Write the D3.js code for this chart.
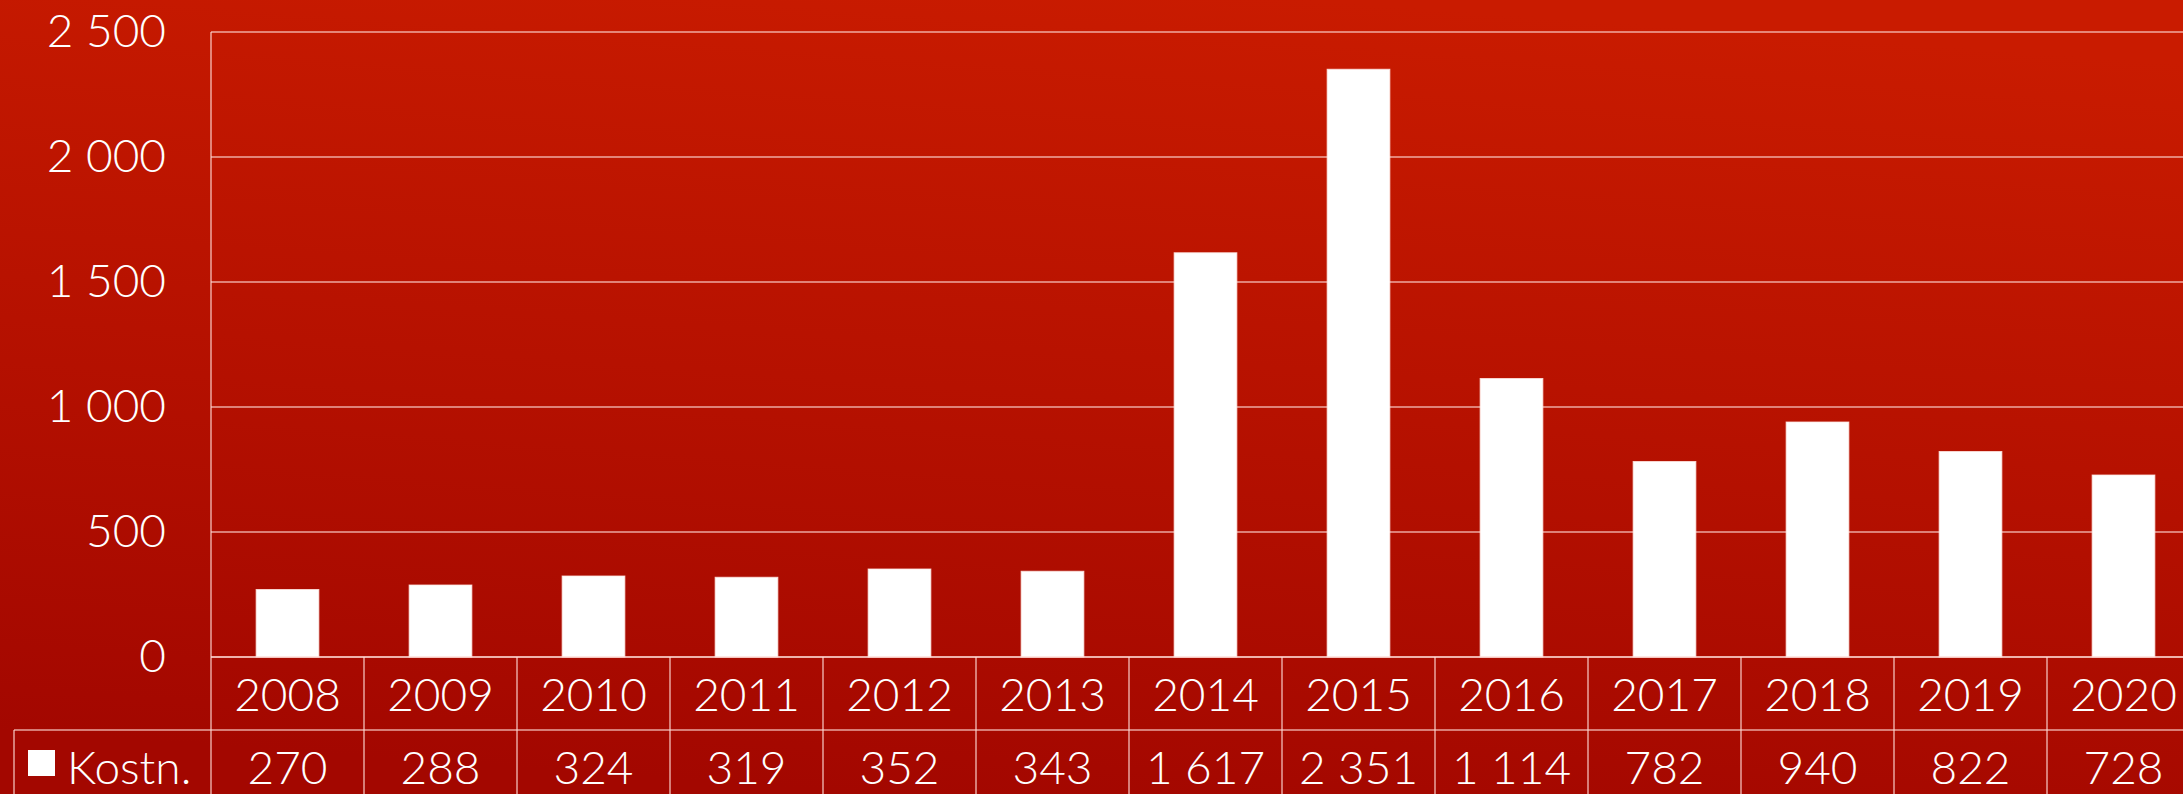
<!DOCTYPE html>
<html><head><meta charset="utf-8">
<script src="https://cdn.jsdelivr.net/npm/d3@7"></script>
<style>
html,body{margin:0;padding:0;overflow:hidden;background:#b51200;}
svg{display:block;}
text{font-family:"Lato","Open Sans",sans-serif;font-weight:300;fill:#fff;}
</style></head>
<body>
<svg id="chart" width="2183" height="794"></svg>
<script>
const categories = ["2008","2009","2010","2011","2012","2013","2014","2015","2016","2017","2018","2019","2020"];
const values = [270,288,324,319,352,343,1617,2351,1114,782,940,822,728];
const seriesName = "Kostn.";
const yTicks = [0,500,1000,1500,2000,2500];

const W = 2183, H = 794;
const plotLeft = 211, plotTop = 32, plotBottom = 657;
const catW = 153;
const plotRight = plotLeft + catW * categories.length;
const row1 = 73, row2 = 73;
const lineColor = "rgba(255,220,215,0.75)";

const fmt = d3.formatLocale({decimal:",", thousands:"\u00a0", grouping:[3], currency:["",""]}).format(",d");

const svg = d3.select("#chart");
const defs = svg.append("defs");
const grad = defs.append("linearGradient").attr("id","bg")
  .attr("x1","0.6").attr("y1","0").attr("x2","0.4").attr("y2","1");
grad.append("stop").attr("offset","0").attr("stop-color","#c91b00");
grad.append("stop").attr("offset","1").attr("stop-color","#a30700");
svg.append("rect").attr("width",W).attr("height",H).attr("fill","url(#bg)");

const x = d3.scaleBand().domain(categories).range([plotLeft,plotRight]).paddingInner(0.59).paddingOuter(0.295);
const xc = d3.scaleBand().domain(categories).range([plotLeft,plotRight]);
const y = d3.scaleLinear().domain([0,2500]).range([plotBottom,plotTop]);

// gridlines
svg.append("g").selectAll("line").data(yTicks).join("line")
  .attr("x1",plotLeft).attr("x2",plotRight)
  .attr("y1",d=>y(d)).attr("y2",d=>y(d))
  .attr("stroke",lineColor).attr("stroke-width",1.5);

// y labels
const yAxis = d3.axisLeft(y).tickValues(yTicks).tickFormat(fmt).tickSize(0).tickPadding(45);
const ga = svg.append("g").attr("transform",`translate(${plotLeft},0)`).call(yAxis);
ga.select(".domain").remove();
ga.selectAll("text").attr("fill","#fff").style("font-size","46px").style("font-family",'"Lato","Open Sans",sans-serif').style("font-weight","300");

// bars
svg.append("g").selectAll("rect").data(values).join("rect")
  .attr("x",(d,i)=>x(categories[i]))
  .attr("width",x.bandwidth())
  .attr("y",d=>y(d))
  .attr("height",d=>y(0)-y(d))
  .attr("fill","#fff")
  .attr("stroke","rgba(255,230,225,0.8)").attr("stroke-width",1);

// table lines
const tl = svg.append("g").attr("stroke",lineColor).attr("stroke-width",1.5);
tl.append("line").attr("x1",plotLeft).attr("x2",plotLeft).attr("y1",plotTop).attr("y2",H);
tl.append("line").attr("x1",plotLeft).attr("x2",plotRight).attr("y1",plotBottom).attr("y2",plotBottom);
tl.append("line").attr("x1",14).attr("x2",plotRight).attr("y1",plotBottom+row1).attr("y2",plotBottom+row1);
tl.append("line").attr("x1",14).attr("x2",14).attr("y1",plotBottom+row1).attr("y2",H);
tl.selectAll(".v").data(categories).join("line").attr("class","v")
  .attr("x1",d=>xc(d)+catW).attr("x2",d=>xc(d)+catW)
  .attr("y1",plotBottom).attr("y2",H);

// category labels
svg.append("g").selectAll("text").data(categories).join("text")
  .attr("x",d=>xc(d)+catW/2).attr("y",plotBottom+row1/2)
  .attr("text-anchor","middle").attr("dominant-baseline","central")
  .style("font-size","46px").text(d=>d);

// values row
svg.append("g").selectAll("text").data(values).join("text")
  .attr("x",(d,i)=>xc(categories[i])+catW/2).attr("y",plotBottom+row1+row2/2)
  .attr("text-anchor","middle").attr("dominant-baseline","central")
  .style("font-size","46px").text(d=>fmt(d));

// legend
svg.append("rect").attr("x",28).attr("y",750).attr("width",27).attr("height",26).attr("fill","#fff");
svg.append("text").attr("x",67).attr("y",plotBottom+row1+row2/2)
  .attr("dominant-baseline","central").style("font-size","46px").text(seriesName);
</script>
</body></html>
